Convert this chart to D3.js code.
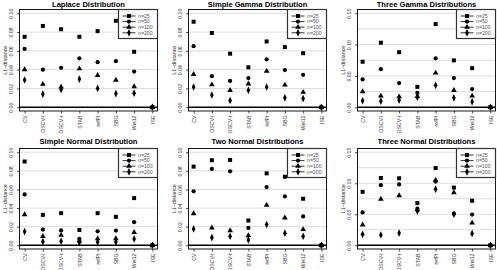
<!DOCTYPE html>
<html>
<head>
<meta charset="utf-8">
<script src="https://cdn.jsdelivr.net/npm/d3@7"></script>
<style>
  body { margin: 0; background: #fff; }
  svg { display: block; font-family: "Liberation Sans", Arial, sans-serif; }
</style>
</head>
<body>
<script>
const methods = ["CV", "OSCV-l", "OSCV-r", "STAB", "refPI", "SBG", "Wei12", "ISE"];
const sampleSizes = ["n=25", "n=50", "n=100", "n=200"];
const ticksSmall = [0, 0.02, 0.04, 0.06, 0.08, 0.10];
const ticksLarge = [0, 0.05, 0.10, 0.15];
const gridLarge = [0.025, 0.05, 0.075, 0.10, 0.125, 0.15];

// rows: n=25, n=50, n=100, n=200 ; columns follow methods
const laplace = [
  [0.075, 0.0865, 0.083, 0.075, 0.081, 0.092, 0.059, 0],
  [0.062, 0.040, 0.042, 0.052, 0.048, 0.049, 0.038, 0],
  [0.040, 0.0245, 0.0216, 0.041, 0.034, 0.029, 0.022, 0],
  [0.029, 0.014, 0.019, 0.030, 0.020, 0.0145, 0.015, 0]
];
const simpleGamma = [
  [0.091, 0.079, 0.057, 0.0425, 0.070, 0.064, 0.0575, 0],
  [0.065, 0.033, 0.028, 0.031, 0.051, 0.0395, 0.0345, 0],
  [0.035, 0.024, 0.018, 0.025, 0.0385, 0.0237, 0.016, 0],
  [0.0215, 0.013, 0.0072, 0.018, 0.0215, 0.010, 0.0093, 0]
];
const threeGamma = [
  [0.0726, 0.103, 0.0878, 0.0325, 0.1327, 0.0748, 0.0623, 0],
  [0.0444, 0.0607, 0.0385, 0.0228, 0.078, 0.0466, 0.029, 0],
  [0.025, 0.018, 0.0168, 0.0173, 0.0547, 0.027, 0.018, 0],
  [0.0103, 0.0098, 0.0114, 0.016, 0.035, 0.015, 0.0087, 0]
];
const simpleNormal = [
  [0.090, 0.0327, 0.0345, 0.0165, 0.0345, 0.0306, 0.0507, 0],
  [0.0547, 0.0169, 0.016, 0.0068, 0.015, 0.0158, 0.0248, 0],
  [0.033, 0.0097, 0.0108, 0.005, 0.0072, 0.0072, 0.014, 0],
  [0.0147, 0.004, 0.0043, 0.003, 0.0036, 0.0036, 0.0068, 0]
];
const twoNormal = [
  [0.0845, 0.0914, 0.0917, 0.0266, 0.0773, 0.0737, 0.050, 0],
  [0.058, 0.082, 0.0795, 0.0187, 0.0626, 0.0525, 0.031, 0],
  [0.034, 0.0187, 0.0158, 0.0104, 0.0432, 0.0295, 0.017, 0],
  [0.0176, 0.0083, 0.0097, 0.0058, 0.0223, 0.013, 0.0097, 0]
];
const threeNormal = [
  [0.0862, 0.1085, 0.108, 0.068, 0.1245, 0.093, 0.0718, 0],
  [0.053, 0.0968, 0.098, 0.059, 0.1027, 0.051, 0.0495, 0],
  [0.033, 0.0745, 0.080, 0.0574, 0.105, 0.085, 0.036, 0],
  [0.0176, 0.0165, 0.0197, 0.0553, 0.0904, 0.050, 0.019, 0]
];

const panels = [
  { title: "Laplace Distribution", data: laplace, ymax: 0.10, ticks: ticksSmall, grid: ticksSmall.slice(1) },
  { title: "Simple Gamma Distribution", data: simpleGamma, ymax: 0.10, ticks: ticksSmall, grid: ticksSmall.slice(1) },
  { title: "Three Gamma Distributions", data: threeGamma, ymax: 0.15, ticks: ticksLarge, grid: gridLarge },
  { title: "Simple Normal Distribution", data: simpleNormal, ymax: 0.10, ticks: ticksSmall, grid: ticksSmall.slice(1) },
  { title: "Two Normal Distributions", data: twoNormal, ymax: 0.10, ticks: ticksSmall, grid: ticksSmall.slice(1) },
  { title: "Three Normal Distributions", data: threeNormal, ymax: 0.15, ticks: ticksLarge, grid: gridLarge }
];

const width = 497, height = 270;
const colX = [0, 169, 338];
const rowBox = [[9.5, 111], [148.5, 249]];
const titleY = [6.5, 143.5];
const boxL = 19.5, boxR = 157.5;

const symbols = [d3.symbolSquare, d3.symbolCircle, d3.symbolTriangle, d3.symbolDiamond];
const symSizes = [16, 14, 14, 14];

const svg = d3.select("body").append("svg")
  .attr("width", width)
  .attr("height", height);

function drawMarker(g, i, x, y) {
  g.append("path")
    .attr("d", d3.symbol(symbols[i], symSizes[i])())
    .attr("transform", `translate(${x},${y})` + (i === 3 ? " scale(0.9,1.1)" : ""))
    .attr("fill", "#000");
}

panels.forEach((p, k) => {
  const col = k % 3, row = Math.floor(k / 3);
  const [top, bottom] = rowBox[row];
  const g = svg.append("g").attr("transform", `translate(${colX[col]},0)`);

  const pad = p.ymax * 0.04;
  const x = d3.scaleLinear().domain([0.72, 8.28]).range([boxL, boxR]);
  const y = d3.scaleLinear().domain([-pad, p.ymax + pad]).range([bottom, top]);

  // grid
  g.selectAll(".grid").data(p.grid).enter().append("line")
    .attr("x1", boxL).attr("x2", boxR)
    .attr("y1", d => y(d)).attr("y2", d => y(d))
    .attr("stroke", "#d4d4d4").attr("stroke-width", 0.8);

  // zero line
  g.append("line")
    .attr("x1", boxL).attr("x2", boxR)
    .attr("y1", y(0)).attr("y2", y(0))
    .attr("stroke", "#000").attr("stroke-width", 1.6);

  // points
  p.data.forEach((series, i) => {
    series.forEach((v, j) => drawMarker(g, i, x(j + 1), y(v)));
  });

  // box
  g.append("rect")
    .attr("x", boxL).attr("y", top)
    .attr("width", boxR - boxL).attr("height", bottom - top)
    .attr("fill", "none").attr("stroke", "#000").attr("stroke-width", 0.9);

  // y axis
  const ya = g.append("g").attr("transform", `translate(${boxL},0)`)
    .call(d3.axisLeft(y).tickValues(p.ticks).tickSize(2.5).tickFormat(d3.format(".2f")));
  ya.select(".domain").remove();
  ya.selectAll("line").attr("stroke", "#000").attr("stroke-width", 0.7);
  ya.selectAll("text")
    .attr("font-size", 5.2)
    .attr("fill", "#333")
    .attr("x", 0).attr("dy", 0).attr("y", 0)
    .attr("text-anchor", "middle")
    .attr("transform", "translate(-6.5,0) rotate(-90)");

  // x axis
  const xa = g.append("g").attr("transform", `translate(0,${bottom})`)
    .call(d3.axisBottom(x).tickValues(d3.range(1, 9)).tickSize(2.5).tickFormat(d => methods[d - 1]));
  xa.select(".domain").remove();
  xa.selectAll("line").attr("stroke", "#000").attr("stroke-width", 0.7);
  xa.selectAll("text")
    .attr("font-size", 5.2)
    .attr("fill", "#333")
    .attr("y", 0).attr("dy", "0.35em").attr("x", 0)
    .attr("text-anchor", "end")
    .attr("transform", "translate(0,4.5) rotate(-90)");

  // y label
  g.append("text")
    .attr("transform", `translate(5.5,${(top + bottom) / 2}) rotate(-90)`)
    .attr("text-anchor", "middle")
    .attr("dy", "0.35em")
    .attr("font-size", 5.4)
    .attr("fill", "#333")
    .text("L1\u2212distance");

  // title
  g.append("text")
    .attr("x", (boxL + boxR) / 2)
    .attr("y", titleY[row])
    .attr("text-anchor", "middle")
    .attr("font-size", 7.6)
    .attr("font-weight", "bold")
    .text(p.title);

  // legend
  const lw = 39, lh = 29;
  const lg = g.append("g").attr("transform", `translate(${boxR - lw},${top})`);
  lg.append("rect")
    .attr("width", lw).attr("height", lh)
    .attr("fill", "#fff").attr("stroke", "#333").attr("stroke-width", 1.2);
  sampleSizes.forEach((s, i) => {
    const ly = 6.5 + i * 5.6;
    lg.append("line")
      .attr("x1", 4).attr("x2", 17).attr("y1", ly).attr("y2", ly)
      .attr("stroke", "#000").attr("stroke-width", 0.8);
    drawMarker(lg, i, 10.5, ly);
    lg.append("text")
      .attr("x", 19.5).attr("y", ly).attr("dy", "0.35em")
      .attr("font-size", 5.2).attr("fill", "#555")
      .text(s);
  });
});
</script>
</body>
</html>
